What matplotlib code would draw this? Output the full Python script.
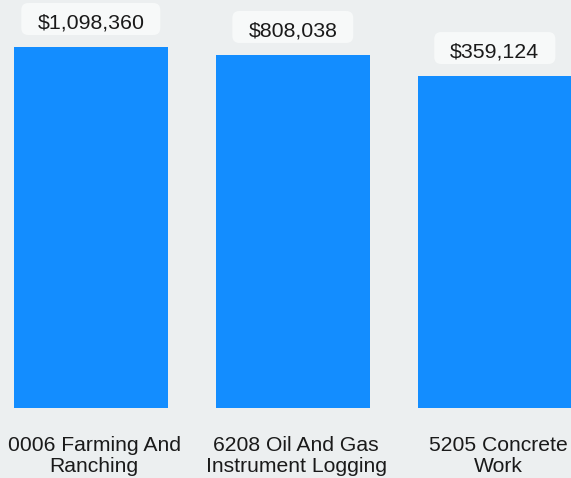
import matplotlib
matplotlib.use("Agg")
import matplotlib.pyplot as plt
from matplotlib.patches import FancyBboxPatch

categories = ["0006 Farming And\nRanching",
              "6208 Oil And Gas\nInstrument Logging",
              "5205 Concrete\nWork"]
values = [1098360, 808038, 359124]
value_labels = ["$1,098,360", "$808,038", "$359,124"]

bg = "#eceff0"
bar_color = "#138dff"
plt.rcParams["font.family"] = ["Liberation Sans", "DejaVu Sans"]

W, H = 571, 478
fig = plt.figure(figsize=(W / 100, H / 100), dpi=100, facecolor=bg)
ax = fig.add_axes([0, 70 / H, 1, 408 / H])
ax.set_facecolor(bg)

x = list(range(len(values)))
ax.bar(x, values, width=0.762, color=bar_color)
ax.set_yscale("log")
ax.set_ylim(1, 10 ** (408 / 59.76))
ax.set_xlim(-90.8 / 202, (W - 90.8) / 202)
for s in ax.spines.values():
    s.set_visible(False)
ax.set_xticks([])
ax.set_yticks([])
ax.minorticks_off()

# category labels under the bars
for i, c in enumerate(categories):
    ax.annotate(c, xy=(i, 0), xycoords=("data", "axes fraction"),
                xytext=(2.5, -20), textcoords="offset points",
                ha="center", va="top", fontsize=15.2, color="#1a1a1a",
                linespacing=1.16, annotation_clip=False)

# value labels in rounded boxes
texts = []
for i, (v, lab) in enumerate(zip(values, value_labels)):
    t = ax.annotate(lab, xy=(i, v), xytext=(0, 13.5), textcoords="offset points",
                    ha="center", va="baseline", fontsize=15.4, color="#1a1a1a",
                    zorder=5, annotation_clip=False)
    texts.append(t)

fig.canvas.draw()
r = fig.canvas.get_renderer()
for i, (v, t) in enumerate(zip(values, texts)):
    bb = t.get_window_extent(r)
    top = ax.transData.transform((i, v))[1]
    box = FancyBboxPatch((bb.x0 - 16, top + 12), bb.width + 32, 32,
                         boxstyle="round,pad=0,rounding_size=7",
                         transform=None, facecolor="#f7f9f9", edgecolor="none",
                         zorder=4)
    ax.add_artist(box)
    box.set_clip_on(False)

fig.savefig("out.png", dpi=100, facecolor=bg)
